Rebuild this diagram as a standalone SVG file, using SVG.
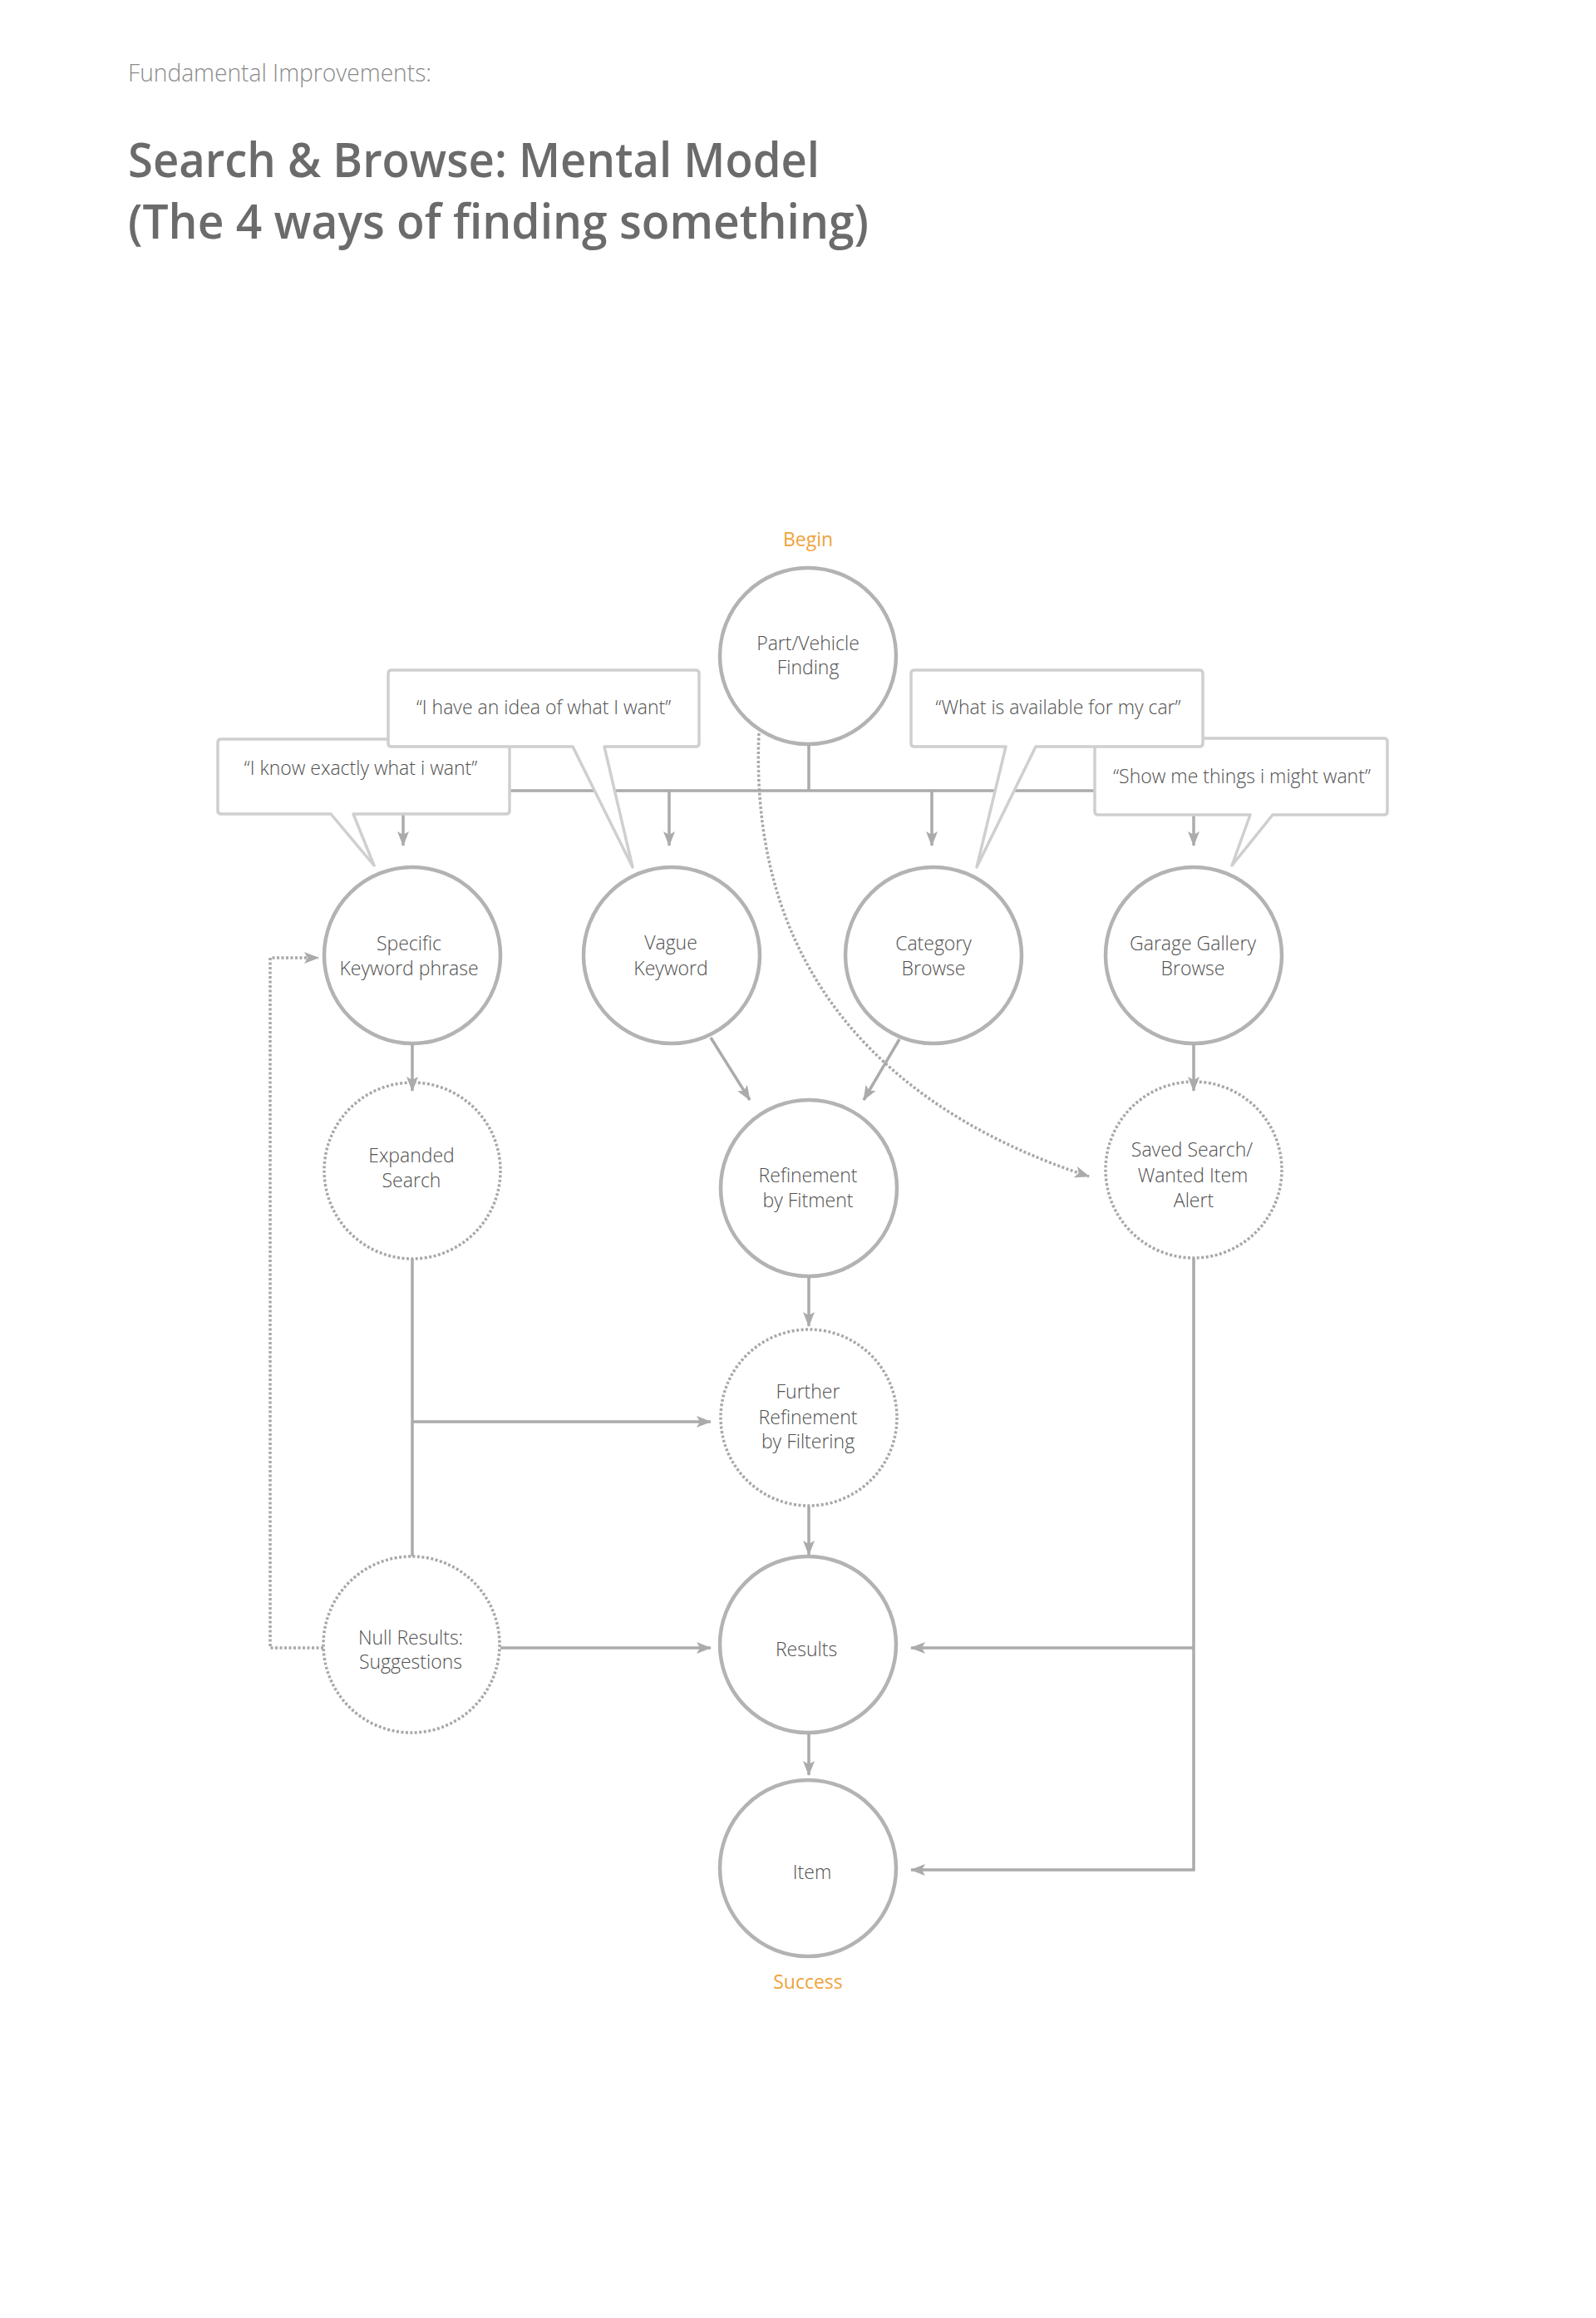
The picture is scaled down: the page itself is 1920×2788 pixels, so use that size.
<svg xmlns="http://www.w3.org/2000/svg" width="1920" height="2788" viewBox="0 0 1920 2788">
<defs>
<style>
.bg{fill:#ffffff}
.sub{font-family:'Open Sans','Noto Sans','Liberation Sans',sans-serif;font-weight:300;font-size:29px;fill:#8a8a8a}
.title{font-family:'Open Sans','Noto Sans','Liberation Sans',sans-serif;font-weight:600;font-size:58px;fill:#6b6b6b}
.node{fill:#ffffff;stroke:#b3b3b3;stroke-width:4.5}
.dnode{fill:#ffffff;stroke:#a8a8a8;stroke-width:3.5;stroke-dasharray:3 2.5}
.t{font-family:'Open Sans','Noto Sans','Liberation Sans',sans-serif;font-weight:300;font-size:23px;fill:#4f4f4f;text-anchor:middle}
.lbl{font-family:'Open Sans','Noto Sans','Liberation Sans',sans-serif;font-weight:400;font-size:23px;fill:#f0a33c;text-anchor:middle}
.c{fill:none;stroke:#ababab;stroke-width:3.5}
.cd{fill:none;stroke:#a8a8a8;stroke-width:3.5;stroke-dasharray:3 2.5}
.bub{fill:#ffffff;stroke:#cfcfcf;stroke-width:3.5;stroke-linejoin:round}
</style>
<marker id="arr" viewBox="0 0 18 14" refX="17" refY="7" markerWidth="18" markerHeight="14" orient="auto" markerUnits="userSpaceOnUse">
<path d="M0,0 L18,7 L0,14 L4,7 Z" fill="#ababab"/>
</marker>
</defs>
<rect class="bg" x="0" y="0" width="1920" height="2788"/>

<g id="header">
<text class="sub" x="154" y="98" textLength="365" lengthAdjust="spacingAndGlyphs">Fundamental Improvements:</text>
<text class="title" x="154" y="213" textLength="832" lengthAdjust="spacingAndGlyphs">Search &amp; Browse: Mental Model</text>
<text class="title" x="154" y="287" textLength="891" lengthAdjust="spacingAndGlyphs">(The 4 ways of finding something)</text>
</g>

<g id="begin-label"><text class="lbl" x="972" y="657">Begin</text></g>
<g id="success-label"><text class="lbl" x="972" y="2392">Success</text></g>

<g id="node-part-vehicle">
<circle class="node" cx="972" cy="789" r="106"/>
<text class="t" x="972" y="782">Part/Vehicle</text>
<text class="t" x="972" y="811">Finding</text>
</g>
<g id="node-specific">
<circle class="node" cx="496" cy="1149" r="106"/>
<text class="t" x="492" y="1143">Specific</text>
<text class="t" x="492" y="1173">Keyword phrase</text>
</g>
<g id="node-vague">
<circle class="node" cx="808" cy="1149" r="106"/>
<text class="t" x="807" y="1142">Vague</text>
<text class="t" x="807" y="1173">Keyword</text>
</g>
<g id="node-category">
<circle class="node" cx="1123" cy="1149" r="106"/>
<text class="t" x="1123" y="1143">Category</text>
<text class="t" x="1123" y="1173">Browse</text>
</g>
<g id="node-garage">
<circle class="node" cx="1436" cy="1149" r="106"/>
<text class="t" x="1435" y="1143">Garage Gallery</text>
<text class="t" x="1435" y="1173">Browse</text>
</g>
<g id="node-expanded">
<circle class="dnode" cx="496" cy="1408" r="106"/>
<text class="t" x="495" y="1398">Expanded</text>
<text class="t" x="495" y="1428">Search</text>
</g>
<g id="node-refinement">
<circle class="node" cx="973" cy="1429" r="106"/>
<text class="t" x="972" y="1422">Refinement</text>
<text class="t" x="972" y="1452">by Fitment</text>
</g>
<g id="node-saved">
<circle class="dnode" cx="1436" cy="1407" r="106"/>
<text class="t" x="1434" y="1391">Saved Search/</text>
<text class="t" x="1435" y="1422">Wanted Item</text>
<text class="t" x="1436" y="1452">Alert</text>
</g>
<g id="node-further">
<circle class="dnode" cx="973" cy="1705" r="106"/>
<text class="t" x="972" y="1682">Further</text>
<text class="t" x="972" y="1713">Refinement</text>
<text class="t" x="972" y="1742">by Filtering</text>
</g>
<g id="node-null">
<circle class="dnode" cx="495" cy="1978" r="106"/>
<text class="t" x="494" y="1978">Null Results:</text>
<text class="t" x="494" y="2007">Suggestions</text>
</g>
<g id="node-results">
<circle class="node" cx="972" cy="1978" r="106"/>
<text class="t" x="970" y="1992">Results</text>
</g>
<g id="node-item">
<circle class="node" cx="972" cy="2247" r="106"/>
<text class="t" x="977" y="2260">Item</text>
</g>

<g id="connectors">
<path class="c" d="M973 896 V951"/>
<path class="c" d="M485 951 H1436"/>
<path class="c" d="M485 951 V1017" marker-end="url(#arr)"/>
<path class="c" d="M805 951 V1017" marker-end="url(#arr)"/>
<path class="c" d="M1121 951 V1017" marker-end="url(#arr)"/>
<path class="c" d="M1436 951 V1017" marker-end="url(#arr)"/>
<path class="cd" d="M913 882 C900 1180 1080 1340 1310 1415" marker-end="url(#arr)"/>
<path class="c" d="M496 1256 V1312" marker-end="url(#arr)"/>
<path class="c" d="M1436 1256 V1312" marker-end="url(#arr)"/>
<path class="c" d="M855 1248 L902 1323" marker-end="url(#arr)"/>
<path class="c" d="M1082 1250 L1039 1323" marker-end="url(#arr)"/>
<path class="c" d="M973 1536 V1595" marker-end="url(#arr)"/>
<path class="c" d="M496 1514 V1872"/>
<path class="c" d="M496 1710 H855" marker-end="url(#arr)"/>
<path class="c" d="M973 1812 V1870" marker-end="url(#arr)"/>
<path class="c" d="M602 1982 H855" marker-end="url(#arr)"/>
<path class="cd" d="M389 1982 H325 V1152 H383" marker-end="url(#arr)"/>
<path class="c" d="M1436 1513 V2249 H1096" marker-end="url(#arr)"/>
<path class="c" d="M1436 1982 H1096" marker-end="url(#arr)"/>
<path class="c" d="M973 2085 V2135" marker-end="url(#arr)"/>
</g>

<g id="bubble-know">
<path class="bub" d="M266 889 H609 Q613 889 613 893 V975 Q613 979 609 979 H425 L450 1041 L398 979 H266 Q262 979 262 975 V893 Q262 889 266 889 Z"/>
<text class="t" x="434" y="932">“I know exactly what i want”</text>
</g>
<g id="bubble-idea">
<path class="bub" d="M471 806 H837 Q841 806 841 810 V894 Q841 898 837 898 H727 L761 1043 L689 898 H471 Q467 898 467 894 V810 Q467 806 471 806 Z"/>
<text class="t" x="654" y="859">“I have an idea of what I want”</text>
</g>
<g id="bubble-show">
<path class="bub" d="M1321 888 H1665 Q1669 888 1669 892 V976 Q1669 980 1665 980 H1531 L1482 1041 L1504 980 H1321 Q1317 980 1317 976 V892 Q1317 888 1321 888 Z"/>
<text class="t" x="1494" y="942">“Show me things i might want”</text>
</g>
<g id="bubble-car">
<path class="bub" d="M1100 806 H1443 Q1447 806 1447 810 V894 Q1447 898 1443 898 H1246 L1175 1043 L1210 898 H1100 Q1096 898 1096 894 V810 Q1096 806 1100 806 Z"/>
<text class="t" x="1273" y="859">“What is available for my car”</text>
</g>
</svg>
